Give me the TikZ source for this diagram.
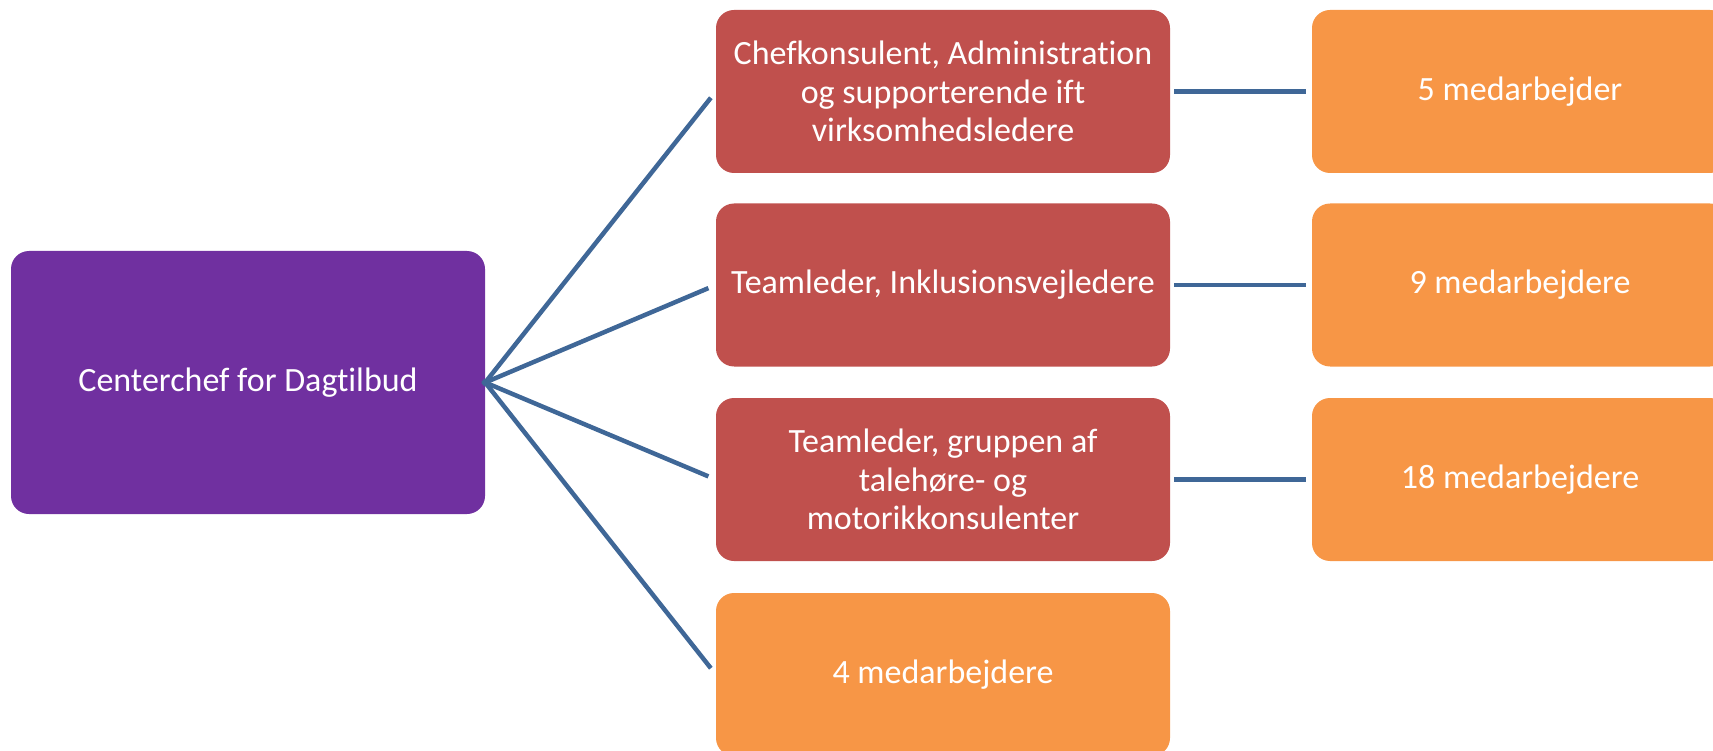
\documentclass[tikz,border=0pt]{standalone}
\usepackage{fontspec}
\setmainfont{Carlito}[Renderer=OpenType,RawFeature={-liga;-clig;-dlig;-calt}]
\definecolor{cpurple}{HTML}{7030A0}
\definecolor{cred}{HTML}{C0504D}
\definecolor{corange}{HTML}{F79646}
\definecolor{cline}{HTML}{3F6797}
\begin{document}
\begin{tikzpicture}[x=1pt,y=-1pt,
  box/.style={rectangle, rounded corners=18pt, minimum width=454pt, minimum height=163pt,
    text=white, align=center, inner sep=0pt, font=\fontsize{34}{38.5}\selectfont},
  chief/.style={box, fill=cpurple, minimum width=474pt, minimum height=263pt},
  lead/.style={box, fill=cred},
  staff/.style={box, fill=corange},
  conn/.style={draw=cline, line width=4.5pt}]
\clip (0,0) rectangle (1713,751);
\node[chief] (c) at (248,382.5) {Centerchef for Dagtilbud};
\node[lead] (r1) at (943,91.5) {Chefkonsulent, Administration\\og supporterende ift\\virksomhedsledere};
\node[lead] (r2) at (943,285) {Teamleder, Inklusionsvejledere};
\node[lead] (r3) at (943,479.5) {Teamleder, gruppen af\\talehøre- og\\motorikkonsulenter};
\node[staff] (o4) at (943,674.5) {4 medarbejdere};
\node[staff, minimum width=416pt] (o1) at (1520,91.5) {5 medarbejder};
\node[staff, minimum width=416pt] (o2) at (1520,285) {9 medarbejdere};
\node[staff, minimum width=416pt] (o3) at (1520,479.5) {18 medarbejdere};
\foreach \t in {r1,r2,r3,o4} \draw[conn, shorten >=8pt, shorten <=-3pt] (c.east) -- (\t.west);
\draw[conn, shorten <=4pt, shorten >=6pt] (r1.east) -- (o1.west);
\draw[conn, shorten <=4pt, shorten >=6pt] (r2.east) -- (o2.west);
\draw[conn, shorten <=4pt, shorten >=6pt] (r3.east) -- (o3.west);
\end{tikzpicture}
\end{document}
